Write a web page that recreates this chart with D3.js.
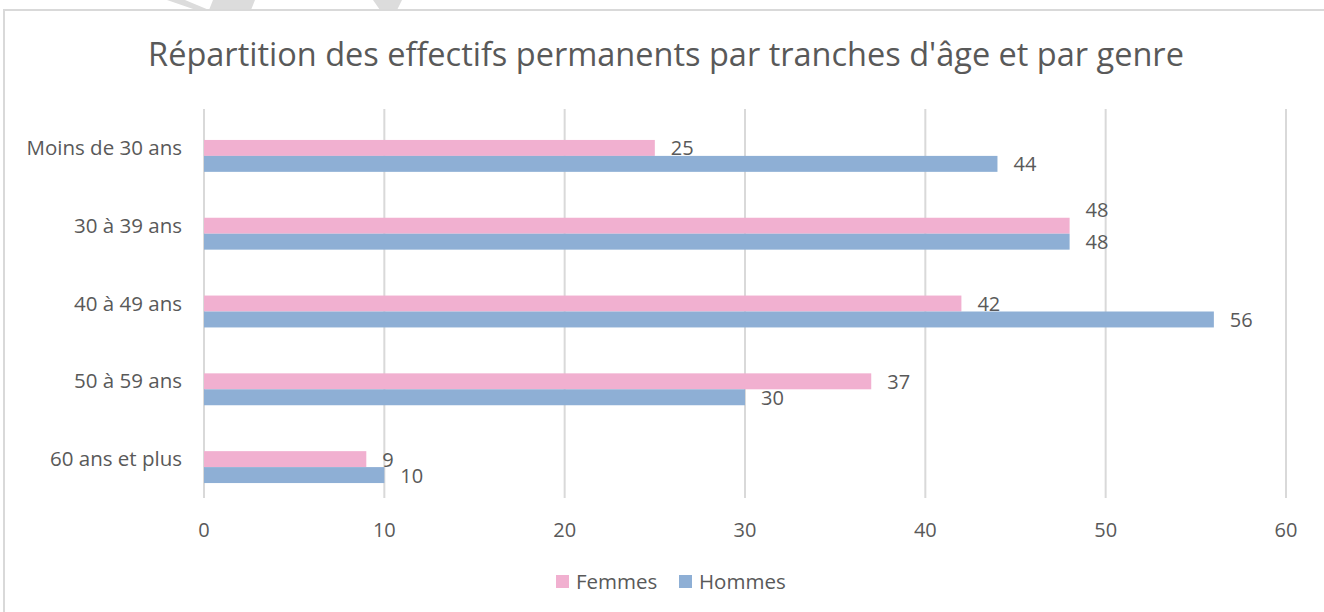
<!DOCTYPE html>
<html>
<head>
<meta charset="utf-8">
<script src="https://cdn.jsdelivr.net/npm/d3@7"></script>
<style>
  body { margin: 0; background: #fff; }
  text { font-family: "Open Sans", "Noto Sans", sans-serif; fill: #595959; }
</style>
</head>
<body>
<div id="chart"></div>
<script>
const categories = ["Moins de 30 ans", "30 à 39 ans", "40 à 49 ans", "50 à 59 ans", "60 ans et plus"];
const femmes = [25, 48, 42, 37, 9];
const hommes = [44, 48, 56, 30, 10];
const seriesNames = ["Femmes", "Hommes"];
const seriesColors = ["#f1b0d0", "#8eafd5"];
const xTicks = [0, 10, 20, 30, 40, 50, 60];

const width = 1324, height = 612;

const svg = d3.select("#chart")
  .append("svg")
  .attr("width", width)
  .attr("height", height);

// decorative grey shapes above the frame
svg.append("path")
  .attr("d", "M167,0 L185,0 L209,10 L196,10 Z M213,0 L255,0 L251,10 L209,10 Z M373,0 L402,0 L397,10 L380,10 Z")
  .attr("fill", "#dcdcdc");

// chart frame
svg.append("rect")
  .attr("x", 4).attr("y", 10)
  .attr("width", 1340).attr("height", 620)
  .attr("fill", "none")
  .attr("stroke", "#d9d9d9")
  .attr("stroke-width", 2);

svg.append("text")
  .attr("x", 666).attr("y", 66)
  .attr("text-anchor", "middle")
  .style("font-size", "32.5px")
  .text("Répartition des effectifs permanents par tranches d'âge et par genre");

const x = d3.scaleLinear().domain([0, 60]).range([204, 1286]);
const y = d3.scaleBand().domain(categories).range([117, 506]).paddingInner(0.59).paddingOuter(0.295);
const ySub = d3.scaleBand().domain(seriesNames).range([0, y.bandwidth()]);

// gridlines
svg.append("g")
  .selectAll("line")
  .data(xTicks)
  .join("line")
  .attr("x1", d => x(d)).attr("x2", d => x(d))
  .attr("y1", 109).attr("y2", 498)
  .attr("stroke", "#d9d9d9")
  .attr("stroke-width", 2);

// x tick labels
svg.append("g")
  .selectAll("text")
  .data(xTicks)
  .join("text")
  .attr("x", d => x(d))
  .attr("y", 537)
  .attr("text-anchor", "middle")
  .style("font-size", "20px")
  .text(d => d);

// category labels
svg.append("g")
  .selectAll("text")
  .data(categories)
  .join("text")
  .attr("x", 182)
  .attr("y", d => y(d) + y.bandwidth() / 2 - 9)
  .attr("text-anchor", "end")
  .attr("dominant-baseline", "central")
  .style("font-size", "20.5px")
  .text(d => d);

const rows = categories.map((c, i) => ({ cat: c, values: [femmes[i], hommes[i]] }));

const groups = svg.append("g")
  .selectAll("g")
  .data(rows)
  .join("g")
  .attr("transform", d => `translate(0,${y(d.cat)})`);

groups.selectAll("rect")
  .data(d => d.values.map((v, j) => ({ name: seriesNames[j], v, j })))
  .join("rect")
  .attr("x", x(0))
  .attr("y", d => ySub(d.name))
  .attr("width", d => x(d.v) - x(0))
  .attr("height", ySub.bandwidth())
  .attr("fill", d => seriesColors[d.j]);

// value labels; when both values are equal the top label is pushed up to avoid overlap
groups.selectAll("text")
  .data(d => d.values.map((v, j) => ({ name: seriesNames[j], v, j, clash: d.values[0] === d.values[1] })))
  .join("text")
  .attr("x", d => x(d.v) + 16)
  .attr("y", d => ySub(d.name) + ySub.bandwidth() / 2 - (d.clash && d.j === 0 ? 16 : 0))
  .attr("dominant-baseline", "central")
  .style("font-size", "20px")
  .text(d => d.v);

// legend
const legend = svg.append("g");
const legendX = [556, 679];
seriesNames.forEach((n, i) => {
  legend.append("rect")
    .attr("x", legendX[i]).attr("y", 575)
    .attr("width", 13).attr("height", 13)
    .attr("fill", seriesColors[i]);
  legend.append("text")
    .attr("x", legendX[i] + 20).attr("y", 581)
    .attr("dominant-baseline", "central")
    .style("font-size", "20.5px")
    .text(n);
});
</script>
</body>
</html>
